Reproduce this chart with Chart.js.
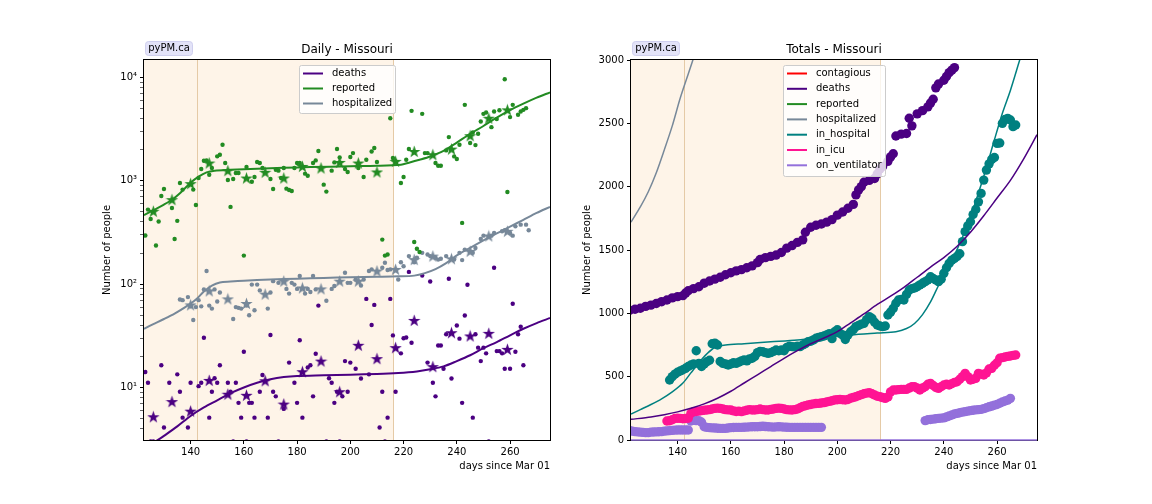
<!DOCTYPE html>
<html><head><meta charset="utf-8">
<script src="https://cdn.jsdelivr.net/npm/chart.js@4.4.0/dist/chart.umd.min.js"></script>
<style>
html,body{margin:0;padding:0;background:#fff;}
#wrap{position:relative;width:1152px;height:504px;overflow:hidden;}
canvas{position:absolute;top:0;}
</style></head><body>
<div id="wrap"><canvas id="c1" width="576" height="504" style="left:0"></canvas><canvas id="c2" width="576" height="504" style="left:576px"></canvas></div>
<script>
// ---------------- DATA ----------------
const xTicks = [140,160,180,200,220,240,260];
const yLogMajor = [10,100,1000,10000];
const yLogLabels = {10:'10\u00B9',100:'10\u00B2',1000:'10\u00B3',10000:'10\u2074'};
const yLinTicks = [0,500,1000,1500,2000,2500,3000];

// Daily chart: model lines
const dailyDeathsModel = [[124,2.7],[128.5,3.2],[130,3.4],[135,4.2],[140,5.3],[145,6.4],[150,7.5],[155,8.8],[160,10],[165,11.1],[170,12],[175,12.6],[180,12.9],[190,13.1],[200,13.3],[210,13.5],[218,13.8],[225,14.3],[230,15],[235,16],[240,18],[245,20.5],[250,24],[255,27.5],[260,32],[265,37],[270,42],[275,47]];
const dailyReportedModel = [[122.5,465],[126,520],[130,590],[133,657],[136,760],[140,960],[143,1100],[146,1210],[149,1255],[155,1280],[165,1310],[175,1340],[185,1360],[200,1385],[210,1400],[219,1436],[222,1500],[226,1600],[230,1720],[235,1950],[240,2350],[245,2850],[250,3400],[255,4100],[260,4850],[265,5600],[270,6400],[275,7200]];
const dailyHospModel = [[122.5,37],[126,41],[130,46],[134,52],[138,60],[142,71],[145,85],[148,97],[151,104],[155,106],[160,108],[170,111],[180,113],[190,115],[200,117],[210,118],[218,119],[224,121],[228,128],[232,140],[236,160],[240,190],[245,225],[250,265],[255,310],[260,360],[265,420],[270,490],[275,560]];

// Daily chart: observed daily values
const dailyReported = [[123,296],[124,527],[125,428],[127,237],[128,404],[129,715],[130,835],[133,547],[134,274],[135,410],[136,955],[137,823],[141,823],[142,585],[143,1066],[144,1303],[145,1567],[146,1578],[147,1148],[148,1331],[150,1727],[151,1791],[152,2237],[153,1489],[154,1019],[155,560],[156,1042],[157,1191],[158,1191],[160,189],[161,1361],[163,981],[164,1089],[165,1521],[166,1489],[167,1331],[170,1042],[171,835],[172,1282],[173,1256],[174,1066],[175,1331],[176,841],[177,817],[178,798],[179,1331],[180,1489],[181,1489],[183,1175],[184,1122],[186,1489],[187,1578],[188,1944],[190,919],[191,787],[193,1256],[194,1510],[195,2032],[196,1687],[198,1303],[199,1219],[200,1702],[201,1858],[203,1331],[205,1089],[206,1603],[208,1927],[209,2078],[210,1521],[212,270],[213,189],[214,194],[215,4045],[216,1663],[217,1545],[219,953],[220,1089],[221,1603],[222,2032],[223,4762],[224,256],[225,220],[226,205],[227,4457],[228,1858],[229,1858],[232,1489],[233,1403],[234,1403],[236,1972],[237,2654],[239,1726],[240,1626],[241,2239],[242,392],[243,5445],[245,2323],[246,2942],[247,2221],[248,2858],[249,3758],[250,4457],[251,4592],[253,3313],[254,4697],[255,3963],[256,4830],[258,9638],[259,780],[260,4143],[261,5445],[263,4363],[264,4697],[265,4871],[266,5058]];
const dailyHosp = [[136,71],[137,70],[139,75],[140,61],[141,45],[142,60],[143,70],[144,61],[145,89],[146,134],[147,62],[148,58],[149,89],[150,68],[151,83],[156,46],[157,60],[158,59],[159,58],[161,62],[162,50],[163,99],[164,56],[165,99],[166,87],[169,58],[170,83],[171,107],[173,103],[176,90],[177,81],[178,103],[179,99],[180,90],[181,120],[183,81],[184,90],[185,84],[186,120],[187,89],[191,69],[193,90],[194,96],[198,129],[199,103],[200,103],[202,111],[204,97],[205,111],[207,134],[208,139],[212,144],[213,161],[214,137],[215,139],[218,111],[219,163],[220,149],[222,187],[224,163],[225,180],[227,201],[229,194],[230,187],[232,180],[233,173],[234,176],[236,187],[239,173],[241,201],[242,171],[243,216],[246,201],[247,224],[249,274],[250,295],[253,295],[254,313],[257,325],[258,333],[260,313],[261,295],[262,363],[264,377],[266,377],[267,333]];
const dailyDeaths = [[123,14.1],[124,11.1],[125,3],[126,3],[129,16.4],[130,4.1],[132,11.1],[135,13.4],[136,9.1],[137,5.1],[139,4.1],[140,11.1],[143,10.3],[144,11.1],[145,30.3],[147,5.1],[148,9.1],[149,12.3],[150,11.1],[151,16.4],[154,11.1],[155,9.1],[156,3],[157,11.1],[158,7.1],[159,5.1],[160,22.2],[161,3],[162,7.1],[163,7.1],[164,5.1],[166,9.1],[167,13.2],[169,5.1],[170,32.2],[171,9.1],[172,8.2],[173,3],[175,6.2],[177,17.4],[179,11.1],[180,7.1],[181,28.6],[182,5.1],[184,15.6],[185,16.4],[186,8.2],[187,21.2],[188,62],[191,3],[192,12.3],[193,11.1],[194,7.1],[195,9.1],[196,3],[197,8.2],[198,18],[199,9.1],[200,17.4],[202,15.2],[204,12.2],[206,72],[207,13.4],[208,40.2],[209,63],[211,4.1],[212,9.1],[213,3],[214,5.1],[215,72],[216,31.9],[217,9.1],[219,21.4],[220,30],[221,30.5],[222,131.5],[223,27.1],[227,121],[229,17.4],[230,106],[231,11.1],[232,8.2],[233,25.5],[234,25.5],[235,15.2],[236,32.7],[237,113],[238,12.2],[240,39.8],[241,29.7],[242,7.1],[243,49.8],[244,98.6],[246,5.1],[247,32.7],[248,24.3],[249,18],[250,24.3],[251,21.4],[252,3],[254,144],[255,22.5],[256,22.5],[257,21.4],[258,15.2],[260,15.2],[261,64.6],[262,22.2],[263,32.7],[264,38.7],[265,16.4]];

// Daily chart: weekly markers (stars)
const weeklyReported = [[126,508],[133,658],[140,940],[147,1489],[154,1256],[161,1066],[168,1211],[175,1066],[182,1380],[189,1331],[196,1510],[203,1489],[210,1219],[217,1545],[224,1927],[231,1791],[238,2032],[245,2735],[252,4045],[259,4871]];
const weeklyHosp = [[140,63],[147,86],[154,72],[161,65],[168,80],[175,107],[182,92],[189,90],[196,107],[203,107],[210,134],[217,139],[224,173],[231,187],[238,176],[245,208],[252,293],[259,325]];
const weeklyDeaths = [[126,5.2],[133,7.3],[140,5.9],[147,11.7],[154,8.6],[161,8.4],[168,11.6],[175,6.9],[182,14.2],[189,18],[196,9.1],[203,25.6],[210,19],[217,24.3],[224,44.6],[231,15.9],[238,33.9],[245,31.5],[252,33.4],[259,23.4]];

// Totals chart: model lines
const totContagiousModel = [];
const totReportedModel = [];
const totDeathsModel = [[122.5,163],[130,182],[135,200],[140,222],[145,250],[150,285],[155,330],[160,385],[165,450],[170,515],[175,580],[180,645],[185,705],[190,760],[195,805],[200,855],[205,925],[210,995],[215,1070],[220,1135],[225,1205],[230,1285],[235,1365],[240,1440],[245,1530],[250,1640],[255,1770],[260,1910],[265,2050],[270,2220],[275,2410]];
const totHospModel = [[122.5,1720],[126,1840],[129,1960],[132,2110],[135,2290],[138,2480],[141,2700],[144,2890],[147,3080]];
const totInHospModel = [[122.5,205],[126,240],[130,280],[134,325],[138,380],[142,450],[145,530],[148,610],[151,680],[154,730],[158,750],[165,760],[175,775],[185,790],[195,810],[205,830],[215,845],[222,855],[226,880],[229,920],[232,990],[235,1090],[238,1220],[241,1340],[244,1460],[247,1600],[250,1760],[253,1950],[256,2150],[259,2370],[262,2580],[265,2760],[268.5,3000],[270,3100]];
const totVentModel = [[122.5,0],[275,0]];

// Totals chart: observed
const totDeaths = [[122,1025],[124,1032],[126,1040],[128,1055],[130,1065],[132,1078],[134,1092],[136,1105],[138,1122],[140,1132],[142,1140],[143,1160],[144,1178],[146,1195],[148,1210],[150,1238],[152,1255],[154,1270],[156,1285],[158,1305],[160,1320],[162,1335],[164,1345],[166,1360],[168,1375],[170,1400],[171,1425],[173,1440],[175,1450],[177,1460],[179,1480],[181,1515],[183,1535],[185,1560],[187,1580],[188,1640],[190,1680],[192,1695],[194,1705],[196,1720],[198,1740],[200,1775],[202,1800],[204,1830],[206,1860],[207,1935],[208,1975],[209,2000],[210,2035],[212,2050],[214,2065],[215,2100],[216,2140],[217,2160],[219,2200],[220,2235],[221,2260],[222,2400],[224,2415],[226,2420],[227,2540],[228,2480],[230,2575],[232,2600],[234,2630],[235,2660],[236,2690],[237,2780],[238,2810],[240,2840],[241,2870],[242,2900],[243,2920],[244,2940]];
const totInHosp = [[137,474],[138,500],[139,520],[140,535],[141,545],[142,555],[143,566],[144,580],[145,592],[146,600],[147,705],[148,605],[149,580],[150,600],[151,618],[152,630],[153,760],[154,765],[155,750],[156,620],[157,605],[158,600],[159,592],[160,600],[161,610],[162,605],[163,615],[164,625],[165,632],[166,625],[167,640],[168,645],[169,660],[170,690],[171,700],[172,697],[173,690],[174,684],[175,690],[176,700],[177,710],[178,705],[179,710],[180,705],[181,730],[182,740],[183,737],[184,735],[185,740],[186,737],[187,750],[188,760],[189,776],[190,780],[191,790],[192,803],[193,810],[194,815],[195,821],[196,830],[197,840],[198,800],[199,855],[200,870],[201,842],[202,830],[203,794],[204,830],[205,855],[206,870],[207,895],[208,905],[209,915],[210,921],[211,950],[212,974],[213,960],[214,930],[215,908],[216,900],[217,895],[218,900],[219,987],[220,1010],[221,1039],[222,1080],[223,1105],[224,1110],[225,1105],[226,1150],[227,1184],[228,1195],[229,1200],[230,1210],[231,1225],[232,1237],[233,1250],[234,1263],[235,1289],[236,1275],[237,1263],[238,1250],[239,1270],[240,1316],[241,1360],[242,1394],[243,1420],[244,1434],[245,1450],[246,1470],[247,1566],[248,1645],[249,1690],[250,1723],[251,1780],[252,1820],[253,1880],[254,1947],[255,2052],[256,2131],[257,2180],[258,2215],[259,2230],[260,2342],[261,2345],[262,2500],[263,2530],[264,2539],[265,2526],[266,2474],[267,2487]];
const totInIcu = [[136,150],[137,152],[138,160],[139,170],[140,172],[141,171],[142,168],[143,170],[144,172],[145,210],[146,224],[147,225],[148,228],[149,232],[150,235],[151,237],[152,240],[153,245],[154,250],[155,252],[156,250],[157,245],[158,240],[159,238],[160,237],[161,230],[162,225],[163,228],[164,224],[165,230],[166,235],[167,240],[168,237],[169,237],[170,240],[171,245],[172,240],[173,237],[174,237],[175,242],[176,245],[177,250],[178,252],[179,250],[180,245],[181,240],[182,238],[183,237],[184,240],[185,245],[186,255],[187,265],[188,270],[189,276],[190,280],[191,285],[192,288],[193,289],[194,292],[195,295],[196,300],[197,305],[198,310],[199,316],[200,318],[201,320],[202,318],[203,316],[204,320],[205,330],[206,336],[207,342],[208,350],[209,358],[210,365],[211,370],[212,374],[213,365],[214,355],[215,345],[216,342],[217,335],[218,329],[219,340],[220,380],[221,395],[222,395],[223,398],[224,400],[225,400],[226,400],[227,410],[228,420],[229,420],[230,410],[231,395],[232,410],[233,420],[234,440],[235,447],[236,430],[237,415],[238,408],[239,420],[240,434],[241,440],[242,434],[243,445],[244,455],[245,460],[246,480],[247,500],[248,526],[249,500],[250,474],[251,480],[252,487],[253,526],[254,520],[255,513],[256,530],[257,560],[258,566],[259,590],[260,610],[261,645],[262,650],[263,655],[264,660],[265,663],[266,668],[267,671]];
const totVent = [[122,75],[123,70],[124,66],[125,64],[126,62],[127,60],[128,58],[129,58],[130,62],[131,63],[132,64],[133,65],[134,66],[135,70],[136,72],[137,74],[138,76],[139,78],[140,79],[141,79],[142,79],[143,79],[144,79],[145,150],[146,155],[147,153],[148,153],[149,140],[150,105],[151,100],[152,98],[153,96],[154,95],[155,93],[156,92],[157,92],[158,92],[159,95],[160,98],[161,99],[162,100],[163,100],[164,100],[165,101],[166,102],[167,104],[168,105],[169,105],[170,105],[171,106],[172,108],[173,106],[174,105],[175,104],[176,102],[177,104],[178,105],[179,104],[180,102],[181,101],[182,100],[183,100],[184,100],[185,100],[186,100],[187,100],[188,100],[189,100],[190,100],[191,100],[192,100],[193,100],[194,100],[233,153],[234,160],[235,162],[236,165],[237,168],[238,171],[239,173],[240,175],[241,182],[242,190],[243,197],[244,205],[245,210],[246,215],[247,220],[248,224],[249,228],[250,232],[251,235],[252,238],[253,240],[254,242],[255,248],[256,255],[257,262],[258,268],[259,274],[260,280],[261,290],[262,300],[263,308],[264,315],[265,329]];

// ---------------- STYLE HELPERS ----------------
Chart.defaults.font.family = '"DejaVu Sans", sans-serif';
Chart.defaults.font.size = 10;
Chart.defaults.color = '#000';
const FONT = '"DejaVu Sans", sans-serif';
const C = {deaths:'#4b0082', reported:'#228b22', hosp:'#778899', inhosp:'#008080', icu:'#ff1493', vent:'#9370db', cont:'#ff0000'};
const pts = a => a.map(([x,y]) => ({x, y}));

function starImg(color, size){
  const c = document.createElement('canvas'); c.width = size; c.height = size;
  const g = c.getContext('2d'); const cx = size/2, cy = size/2 + 0.5, R = size/2, r = R*0.4;
  g.beginPath();
  for (let i=0;i<10;i++){ const ang = -Math.PI/2 + i*Math.PI/5; const rr = i%2===0?R:r; g.lineTo(cx+rr*Math.cos(ang), cy+rr*Math.sin(ang)); }
  g.closePath(); g.fillStyle = color; g.fill();
  return c;
}

const decor = {
  id: 'decor',
  beforeDatasetsDraw(chart, args, o) {
    const {ctx, chartArea: a} = chart; const x = chart.scales.x;
    ctx.save();
    ctx.fillStyle = '#fef4e8';
    const xe = x.getPixelForValue(o.spanEnd);
    ctx.fillRect(a.left, a.top, xe - a.left, a.bottom - a.top);
    ctx.strokeStyle = '#e5caa6'; ctx.lineWidth = 1;
    for (const v of o.vlines) { const px = Math.round(x.getPixelForValue(v)) + 0.5; ctx.beginPath(); ctx.moveTo(px, a.top); ctx.lineTo(px, a.bottom); ctx.stroke(); }
    ctx.strokeStyle = '#000'; ctx.lineWidth = 1;
    ctx.strokeRect(Math.round(a.left)-0.5, Math.round(a.top)-0.5, Math.round(a.right-a.left)+1, Math.round(a.bottom-a.top)+1);
    ctx.restore();
  },
  afterDraw(chart, args, o) {
    const {ctx, chartArea: a} = chart;
    ctx.save();
    ctx.font = '12px ' + FONT; ctx.fillStyle = '#000'; ctx.textAlign = 'center'; ctx.textBaseline = 'middle';
    ctx.fillText(o.title, (a.left + a.right)/2, 50);
    ctx.beginPath(); ctx.roundRect(a.left + 1.5, 41.5, 47, 14, 3);
    ctx.fillStyle = '#e3e3f8'; ctx.fill(); ctx.strokeStyle = '#cfcfee'; ctx.lineWidth = 1; ctx.stroke();
    ctx.font = '10px ' + FONT; ctx.fillStyle = '#000'; ctx.textAlign = 'center';
    ctx.fillText('pyPM.ca', a.left + 25, 48.5);
    const L = o.legend; const items = chart.data.datasets.filter(d => d.inLegend);
    ctx.beginPath(); ctx.roundRect(L.x + 0.5, L.y + 0.5, L.w, L.h, 2);
    ctx.fillStyle = 'rgba(255,255,255,0.8)'; ctx.fill(); ctx.strokeStyle = '#cccccc'; ctx.stroke();
    ctx.textAlign = 'left'; ctx.textBaseline = 'middle';
    items.forEach((d, i) => {
      const y = L.y0 + i * L.dy;
      ctx.strokeStyle = d.borderColor; ctx.lineWidth = 2;
      ctx.beginPath(); ctx.moveTo(L.x + 4, y); ctx.lineTo(L.x + 24, y); ctx.stroke();
      ctx.fillStyle = '#000'; ctx.fillText(d.label, L.x + 33, y);
    });
    ctx.restore();
  }
};

function xScale(){
  return {type:'linear', min:122.5, max:275,
    afterBuildTicks: s => { s.ticks = xTicks.map(v => ({value:v})); },
    afterFit: s => { s.height = 40; },
    grid:{display:true, drawOnChartArea:false, drawTicks:true, tickLength:4, tickColor:'#000', tickWidth:1},
    border:{display:false},
    ticks:{padding:2, maxRotation:0, autoSkip:false, font:{size:10}, callback: v => String(v)},
    title:{display:true, text:'days since Mar 01', align:'end', padding:{top:0,bottom:8}, font:{size:10}}};
}
function lineDS(label, data, color, w, legend){
  return {type:'line', label, data:pts(data), borderColor:color, backgroundColor:color, borderWidth:w, pointRadius:0, showLine:true, fill:false, tension:0.3, inLegend:legend};
}
function dotDS(label, data, color, r){
  return {type:'scatter', label, data:pts(data), backgroundColor:color, borderColor:color, borderWidth:0, pointRadius:r, pointHoverRadius:r, inLegend:false};
}
function starDS(label, data, color){
  return {type:'scatter', label, data:pts(data), pointStyle:starImg(color, 13), pointRadius:6, inLegend:false};
}

// ---------------- LEFT: DAILY ----------------
const logTicks = [];
[1,10,100,1000].forEach(p => { for (let m=1;m<10;m++){ const v=m*p; if (v>=3.1 && v<=14800) logTicks.push(v);} });
logTicks.push(10000);

new Chart(document.getElementById('c1'), {
  type:'scatter',
  data:{datasets:[
    lineDS('deaths', dailyDeathsModel, C.deaths, 2, true),
    lineDS('reported', dailyReportedModel, C.reported, 2, true),
    lineDS('hospitalized', dailyHospModel, C.hosp, 2, true),
    starDS('deaths weekly', weeklyDeaths, C.deaths),
    starDS('reported weekly', weeklyReported, C.reported),
    starDS('hospitalized weekly', weeklyHosp, C.hosp),
    dotDS('deaths daily', dailyDeaths, C.deaths, 2.2),
    dotDS('reported daily', dailyReported, C.reported, 2.2),
    dotDS('hospitalized daily', dailyHosp, C.hosp, 2.2)
  ]},
  options:{responsive:false, animation:false, devicePixelRatio:1,
    layout:{padding:{left:101, right:26, top:60, bottom:24}},
    plugins:{legend:{display:false}, tooltip:{enabled:false}, title:{display:false},
      decor:{title:'Daily - Missouri', spanEnd:216.2, vlines:[142.5,216.2], legend:{x:299, y:65, w:96, h:48, y0:73.5, dy:15}}},
    scales:{
      x: xScale(),
      y: {type:'logarithmic', min:3.1, max:14800,
        afterBuildTicks: s => { s.ticks = logTicks.map(v => ({value:v, major: yLogMajor.includes(v)})); },
        afterFit: s => { s.width = 43; },
        grid:{display:true, drawOnChartArea:false, drawTicks:true, tickLength:4, tickColor:'#000', tickWidth: c => (c.tick && yLogMajor.includes(c.tick.value)) ? 1 : 0.6},
        border:{display:false},
        ticks:{padding:3, autoSkip:false, callback: v => yLogLabels[v] || ''},
        title:{display:true, text:'Number of people', padding:{top:0,bottom:0}, font:{size:10}}}
    }},
  plugins:[decor]
});

// ---------------- RIGHT: TOTALS ----------------
const ventLine = lineDS('on_ventilator', totVentModel, C.vent, 1.5, true); ventLine.clip = false; ventLine.tension = 0;
new Chart(document.getElementById('c2'), {
  type:'scatter',
  data:{datasets:[
    lineDS('contagious', totContagiousModel, C.cont, 1.5, true),
    lineDS('deaths', totDeathsModel, C.deaths, 1.5, true),
    lineDS('reported', totReportedModel, C.reported, 1.5, true),
    lineDS('hospitalized', totHospModel, C.hosp, 1.5, true),
    lineDS('in_hospital', totInHospModel, C.inhosp, 1.5, true),
    lineDS('in_icu', [], C.icu, 1.5, true),
    ventLine,
    dotDS('deaths total', totDeaths, C.deaths, 4.7),
    dotDS('in_hospital data', totInHosp, C.inhosp, 4.7),
    dotDS('in_icu data', totInIcu, C.icu, 4.7),
    dotDS('on_ventilator data', totVent, C.vent, 4.7)
  ]},
  options:{responsive:false, animation:false, devicePixelRatio:1,
    layout:{padding:{left:5, right:115, top:60, bottom:24}},
    plugins:{legend:{display:false}, tooltip:{enabled:false}, title:{display:false},
      decor:{title:'Totals - Missouri', spanEnd:216.2, vlines:[142.5,216.2], legend:{x:207, y:65, w:102, h:111, y0:73.5, dy:15.3}}},
    scales:{
      x: xScale(),
      y: {type:'linear', min:0, max:3000,
        afterBuildTicks: s => { s.ticks = yLinTicks.map(v => ({value:v})); },
        afterFit: s => { s.width = 50; },
        grid:{display:true, drawOnChartArea:false, drawTicks:true, tickLength:4, tickColor:'#000', tickWidth:1},
        border:{display:false},
        ticks:{padding:3, autoSkip:false, callback: v => String(v)},
        title:{display:true, text:'Number of people', padding:{top:0,bottom:0}, font:{size:10}}}
    }},
  plugins:[decor]
});
</script>
</body></html>
